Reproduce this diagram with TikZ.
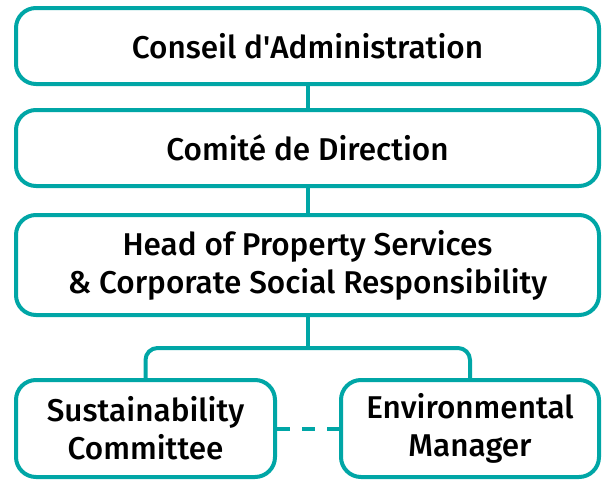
\documentclass[tikz,border=0pt]{standalone}
\usepackage{fontspec}
\setmainfont{Fira Sans}[UprightFont=* Medium]
\usepackage{tikz}
\usetikzlibrary{positioning}
\definecolor{orgteal}{RGB}{0,166,166}

\begin{document}
\begin{tikzpicture}[x=1pt,y=-1pt,
          every node/.style={font=\fontsize{31.5}{38}\selectfont,text=black},
          box/.style={draw=orgteal,line width=4pt,rounded corners=20pt,align=center,inner sep=0pt,fill=white},
          link/.style={orgteal,line width=4pt},
          dlink/.style={orgteal,line width=4pt,dash pattern=on 13pt off 12pt},
        ]
        \useasboundingbox (0,0) rectangle (602,479);
        \node[box,minimum width=583pt,minimum height=76pt]  (board) at (307.5,46)    {Conseil d\textquotesingle Administration};
        \node[box,minimum width=583pt,minimum height=76pt]  (exec)  at (307.5,148)   {Comité de Direction};
        \node[box,minimum width=583pt,minimum height=100pt] (head)  at (307.5,265)   {Head of Property Services\\\& Corporate Social Responsibility};
        \node[box,minimum width=259pt,minimum height=97pt]  (sust)  at (145.5,428.5) {Sustainability\\Committee};
        \node[box,minimum width=258pt,minimum height=97pt]  (envm)  at (470,428.5)   {Environmental\\Manager};
        \coordinate (split) at (307.5,348);
        \draw[link] (board) -- (exec);
        \draw[link] (exec) -- (head);
        \draw[link] (head) -- (split);
        \draw[link,rounded corners=12pt] (sust.north) |- (split) -| (envm.north);
        \draw[dlink] (sust.east) -- (envm.west);
      \end{tikzpicture}
\end{document}
